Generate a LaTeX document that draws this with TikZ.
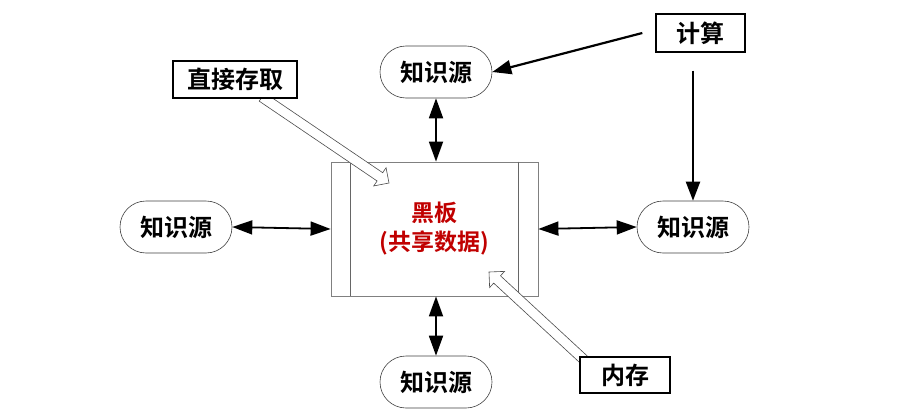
\documentclass[tikz,border=0pt]{standalone}
\usepackage{fontspec}
\newfontfamily\cjk{Noto Sans CJK SC Bold}
\usetikzlibrary{arrows.meta,calc}
\definecolor{bbred}{HTML}{C00000}
\tikzset{
  ks/.style={draw=black!75, line width=0.6pt, rounded corners=26pt, minimum width=112pt, minimum height=52pt, inner sep=0pt, fill=white, font=\cjk\fontsize{24pt}{28pt}\selectfont},
  lbl/.style={draw=black, line width=1.4pt, fill=white, inner sep=0pt, font=\cjk\fontsize{24pt}{28pt}\selectfont},
  board/.style={draw=black!50, line width=0.8pt, minimum width=207pt, minimum height=134pt, inner sep=0pt, align=center, text=bbred, font=\cjk\fontsize{23pt}{29pt}\selectfont},
  dbl/.style={line width=1.8pt, {Triangle[length=20pt,width=14pt]}-{Triangle[length=20pt,width=14pt]}},
  sarr/.style={line width=2.2pt, -{Triangle[length=19pt,width=14pt]}},
  hollow/.style={draw=black!70, line width=0.6pt, fill=white},
}
\newcommand\hollowarr[2]{%
  \coordinate (hh) at ($(#2)!11pt!(#1)$);
  \draw[hollow] ($(#1)!5pt!90:(#2)$) -- ($(hh)!5pt!90:(#2)$) -- ($(hh)!11pt!90:(#2)$) -- (#2)
    -- ($(hh)!11pt!-90:(#2)$) -- ($(hh)!5pt!-90:(#2)$) -- ($(#1)!5pt!-90:(#2)$) -- cycle;}
\begin{document}
\begin{tikzpicture}[x=1pt,y=-1pt]
\useasboundingbox (0,0) rectangle (919,415);
% blackboard
\node[board] (bb) at (434.5,229) {黑板\\(共享数据)};
\draw[black!60, line width=0.6pt] ($(bb.north west)+(20,0)$) -- ($(bb.south west)+(20,0)$);
\draw[black!60, line width=0.6pt] ($(bb.north east)+(-20,0)$) -- ($(bb.south east)+(-20,0)$);
% knowledge sources
\node[ks] (k1) at (436,72) {知识源};
\node[ks] (k2) at (176,227) {知识源};
\node[ks] (k3) at (693,227) {知识源};
\node[ks] (k4) at (436,382) {知识源};
% double arrows
\draw[dbl] (k1.south) -- (k1.south |- bb.north);
\draw[dbl] (k4.north) -- (k4.north |- bb.south);
\draw[dbl] (k2.east) -- (bb.west);
\draw[dbl] (bb.east) -- (k3.west);
% hollow arrows
\coordinate (d0) at (262,97);
\coordinate (d1) at (389,183);
\hollowarr{d0}{d1}
\coordinate (n0) at (594,369);
\coordinate (n1) at (489,272);
\hollowarr{n0}{n1}
% label boxes
\node[lbl, minimum width=124pt, minimum height=37pt] (zj) at (235,79.5) {直接存取};
\node[lbl, minimum width=90pt, minimum height=36pt] (nc) at (625,375) {内存};
\node[lbl, minimum width=89pt, minimum height=38pt] (js) at (700.5,33) {计算};
% compute arrows
\draw[sarr] ([xshift=-13pt]js.west) -- (k1.east);
\draw[sarr] ([yshift=-18pt]js.south -| k3.north) -- (k3.north);
\end{tikzpicture}
\end{document}
